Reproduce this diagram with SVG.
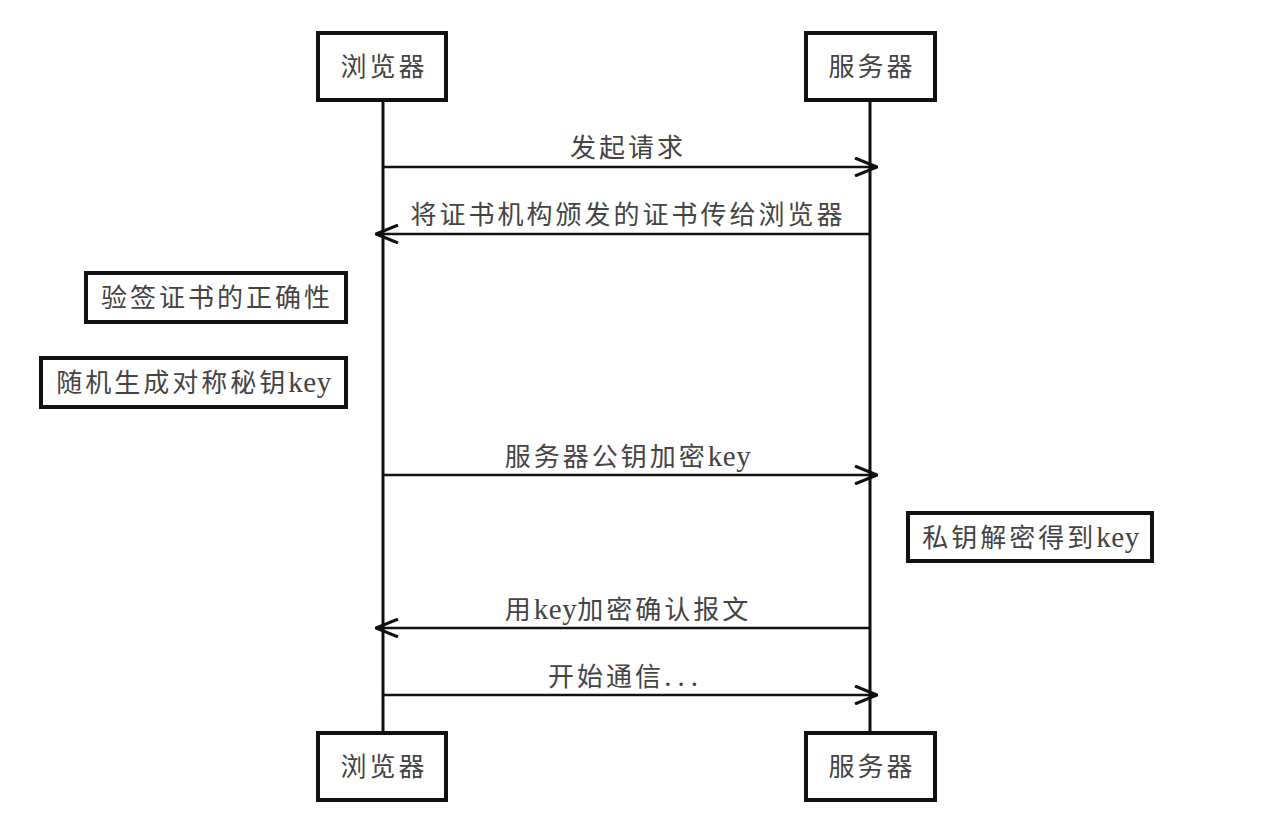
<svg xmlns="http://www.w3.org/2000/svg" width="1262" height="814" viewBox="0 0 1262 814">
<style>
.box{fill:#fff;stroke:#111;stroke-width:4}
.life{stroke:#111;stroke-width:3;fill:none}
.msg{stroke:#111;stroke-width:2.5;fill:none}
.t{font-family:"Liberation Serif","Noto Sans CJK SC",serif;font-size:26px;fill:#444;letter-spacing:3px}
.c{text-anchor:middle}
.l{font-size:29px;letter-spacing:0.5px}
</style>
<defs>
<marker id="arr" viewBox="0 0 24 20" refX="23" refY="10" markerWidth="24" markerHeight="20" markerUnits="userSpaceOnUse" orient="auto">
<path d="M1,1 L23,10 L1,19" fill="none" stroke="#111" stroke-width="3"/>
</marker>
</defs>
<rect width="1262" height="814" fill="#fff"/>
<g id="lifelines">
<line class="life" x1="383" y1="100" x2="383" y2="733"/>
<line class="life" x1="870" y1="100" x2="870" y2="733"/>
</g>
<g id="browser-top"><rect class="box" x="318" y="33" width="128" height="67"/><text class="t c" x="384" y="76">浏览器</text></g>
<g id="server-top"><rect class="box" x="806" y="33" width="129" height="67"/><text class="t c" x="872" y="76">服务器</text></g>
<g id="browser-bottom"><rect class="box" x="318" y="733" width="128" height="67"/><text class="t c" x="384" y="776">浏览器</text></g>
<g id="server-bottom"><rect class="box" x="806" y="733" width="129" height="67"/><text class="t c" x="872" y="776">服务器</text></g>
<g id="note-verify"><rect class="box" x="86" y="273" width="260" height="49"/><text class="t c" x="217" y="307">验签证书的正确性</text></g>
<g id="note-genkey"><rect class="box" x="41" y="358" width="305" height="49"/><text class="t c" x="194" y="392">随机生成对称秘钥<tspan class="l">key</tspan></text></g>
<g id="note-decrypt"><rect class="box" x="908" y="513" width="244" height="48"/><text class="t c" x="1031" y="547">私钥解密得到<tspan class="l">key</tspan></text></g>
<g id="connectors">
<line class="msg" x1="383" y1="167" x2="877" y2="167" marker-end="url(#arr)"/>
<line class="msg" x1="870" y1="234" x2="376" y2="234" marker-end="url(#arr)"/>
<line class="msg" x1="383" y1="475" x2="877" y2="475" marker-end="url(#arr)"/>
<line class="msg" x1="870" y1="628" x2="376" y2="628" marker-end="url(#arr)"/>
<line class="msg" x1="383" y1="695" x2="877" y2="695" marker-end="url(#arr)"/>
<text class="t c" x="628" y="157">发起请求</text>
<text class="t c" x="628" y="224">将证书机构颁发的证书传给浏览器</text>
<text class="t c" x="628" y="466">服务器公钥加密<tspan class="l">key</tspan></text>
<text class="t c" x="628" y="619">用<tspan class="l">key</tspan>加密确认报文</text>
<text class="t c" x="626" y="686">开始通信<tspan class="l" style="letter-spacing:6px">...</tspan></text>
</g>
</svg>
